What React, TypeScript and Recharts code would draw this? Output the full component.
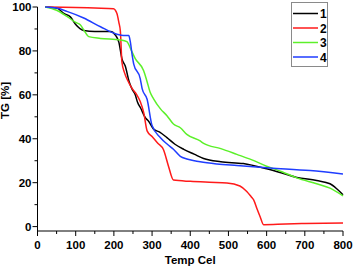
import React from 'react';
import { LineChart, Line, XAxis, YAxis } from 'recharts';

// temperature (Cel) / TG (%) pairs
const temp1 = [20, 50, 70, 86, 100, 121, 150, 191, 205, 213, 221, 230, 240, 248, 256, 262, 270, 282, 291, 304, 320, 339, 360, 383, 410, 435, 480, 539, 600, 640, 679, 731, 766, 785, 800];
const tg1 = [100, 99.5, 97, 95.5, 92, 89.3, 88.8, 88.8, 87, 84, 76.5, 73, 66, 62.5, 60, 56.6, 54, 49.7, 48, 44.4, 43, 40.5, 37.5, 35.2, 33, 31, 29.5, 28.7, 26.3, 24.4, 22.4, 21, 19.5, 17, 14.5];

const temp2 = [20, 100, 150, 199, 208, 213, 217, 221, 228, 235, 248, 260, 269, 278, 287, 300, 315, 330, 343, 356, 400, 450, 496, 530, 548, 560, 566, 575, 583, 592, 650, 700, 800];
const tg2 = [100, 99.8, 99.5, 99.2, 97, 93, 89, 75, 70, 67, 62.8, 60, 57, 52, 43.6, 41, 38, 35, 27.5, 21.2, 20.6, 20.2, 19.9, 18.5, 16, 13.5, 12.2, 8, 4.5, 0.9, 1.2, 1.4, 1.7];

const temp3 = [20, 50, 77, 100, 112, 125, 134, 165, 217, 234, 245, 256, 278, 287, 295, 304, 322, 339, 356, 374, 391, 426, 435, 480, 522, 560, 600, 640, 679, 731, 766, 800];
const tg3 = [100, 98.5, 95.7, 93, 91.9, 88.5, 86.5, 85.7, 85, 84.2, 80.5, 76.5, 71, 66, 61.2, 58.2, 53.6, 50.5, 46.7, 45, 42, 39, 37.9, 35.5, 32.9, 30.5, 27.5, 25, 22.2, 19.5, 17.5, 14];

const temp4 = [20, 50, 77, 121, 165, 208, 225, 239, 243, 248, 252, 269, 274, 287, 300, 322, 340, 356, 374, 391, 417, 426, 470, 522, 609, 714, 800];
const tg4 = [100, 99.5, 98, 95, 91, 87.6, 87, 87, 84.2, 78, 74, 67.4, 62.8, 58, 46, 40.5, 37.5, 35.2, 32, 30.8, 29.8, 29.5, 28.5, 27.8, 26.7, 25.5, 24];

const seriesNames = ['1', '2', '3', '4'];
const seriesColors = ['#000000', '#ff1a1a', '#5cf02a', '#1f3dff'];

const xTicks = [0, 50, 100, 150, 200, 250, 300, 350, 400, 450, 500, 550, 600, 650, 700, 750, 800];
const yTicks = [0, 10, 20, 30, 40, 50, 60, 70, 80, 90, 100];

const zip = (t: number[], v: number[]) => t.map((x, i) => ({ t: x, v: v[i] }));
const series = [zip(temp1, tg1), zip(temp2, tg2), zip(temp3, tg3), zip(temp4, tg4)];

const FONT = 'Arial, "Liberation Sans", sans-serif';

const XTick = (props: any) => {
  const { x, y, payload } = props;
  const major = payload.value % 100 === 0;
  return (
    <g>
      <line x1={x} x2={x} y1={y} y2={y + (major ? 5 : 3)} stroke="#000" strokeWidth={1} />
      {major && (
        <text x={x} y={y + 18} textAnchor="middle" fontSize={11.5} fontWeight="bold" fontFamily={FONT} fill="#000">
          {payload.value}
        </text>
      )}
    </g>
  );
};

const YTick = (props: any) => {
  const { x, y, payload } = props;
  const major = payload.value % 20 === 0;
  return (
    <g>
      <line x1={x} x2={x - (major ? 5 : 3)} y1={y} y2={y} stroke="#000" strokeWidth={1} />
      {major && (
        <text x={x - 6} y={y + 4} textAnchor="end" fontSize={11.5} fontWeight="bold" fontFamily={FONT} fill="#000">
          {payload.value}
        </text>
      )}
    </g>
  );
};

const LegendBox = () => (
  <div style={{ position: 'absolute', left: 291, top: 2, border: '1px solid #8a8a8a', width: 37, height: 65, background: '#fff', boxSizing: 'border-box' }}>
    <svg width={35} height={63} style={{ display: 'block' }}>
      {seriesNames.map((n, i) => (
        <g key={n}>
          <line x1={1} x2={26} y1={10.5 + i * 14.5} y2={10.5 + i * 14.5} stroke={seriesColors[i]} strokeWidth={1.5} />
          <text x={28} y={15 + i * 14.5} fontSize={12} fontWeight="bold" fontFamily={FONT} fill="#000">
            {n}
          </text>
        </g>
      ))}
    </svg>
  </div>
);

export default function App() {
  return (
    <div style={{ position: 'absolute', left: 0, top: 0, width: 353, height: 268, background: '#fff' }}>
      <LineChart width={353} height={268} margin={{ top: 7, right: 10, left: 0, bottom: 0 }}>
        <XAxis
          type="number"
          dataKey="t"
          domain={[0, 800]}
          ticks={xTicks}
          interval={0}
          height={37}
          tickSize={0}
          tickMargin={0}
          tickLine={false}
          tick={<XTick />}
          axisLine={{ stroke: '#000', strokeWidth: 1 }}
          label={{ value: 'Temp Cel', position: 'insideBottom', offset: 4, fontSize: 11.5, fontWeight: 'bold', fontFamily: FONT, fill: '#000' }}
        />
        <YAxis
          type="number"
          domain={[-2, 100]}
          ticks={yTicks}
          interval={0}
          width={37.5}
          tickSize={0}
          tickMargin={0}
          tickLine={false}
          tick={<YTick />}
          axisLine={{ stroke: '#000', strokeWidth: 1 }}
          label={{ value: 'TG [%]', angle: -90, position: 'insideLeft', offset: 5, fontSize: 11.5, fontWeight: 'bold', fontFamily: FONT, fill: '#000' }}
        />
        {series.map((d, i) => (
          <Line
            key={seriesNames[i]}
            name={seriesNames[i]}
            data={d}
            dataKey="v"
            type="monotone"
            stroke={seriesColors[i]}
            strokeWidth={1.5}
            dot={false}
            isAnimationActive={false}
          />
        ))}
      </LineChart>
      <LegendBox />
    </div>
  );
}
